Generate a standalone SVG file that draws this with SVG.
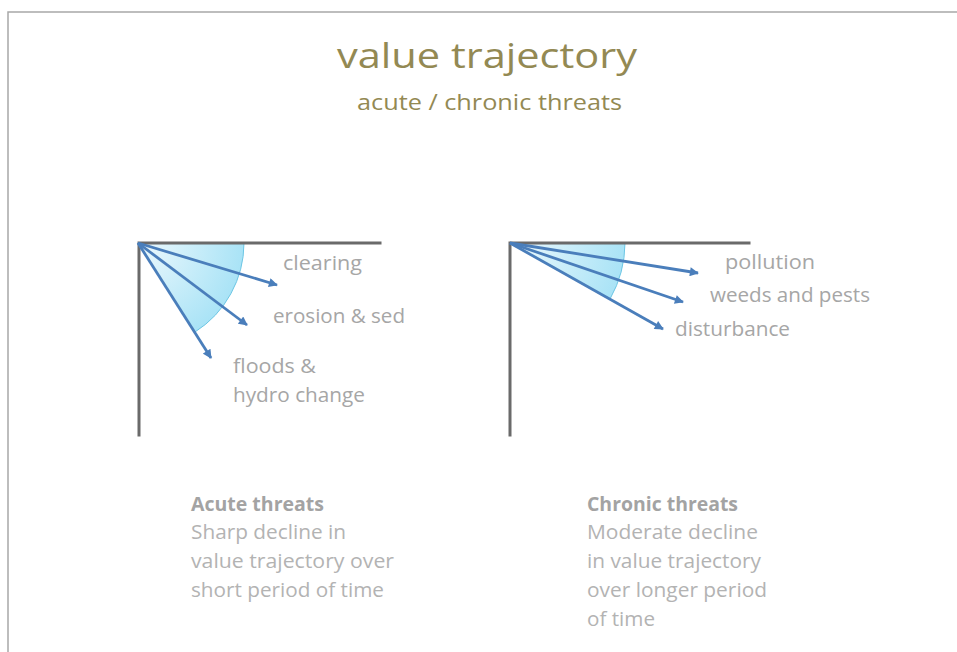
<svg xmlns="http://www.w3.org/2000/svg" width="957" height="652" viewBox="0 0 957 652">
  <style>
    .frame { fill: none; stroke: #a8a8a8; stroke-width: 1.5; }
    .axis { fill: none; stroke: #6a6a6a; stroke-width: 3; stroke-linecap: square; }
    .arrow { fill: none; stroke: #4a7ebb; stroke-width: 2.8; marker-end: url(#head); }
    .wedge-edge { stroke: #6cc6e4; stroke-width: 1; }
    .title { font-family: "Open Sans", "Liberation Sans", sans-serif; fill: #938953; }
    .label { font-family: "Open Sans", "Liberation Sans", sans-serif; font-size: 20px; fill: #a6a6a6; }
    .note { font-family: "Open Sans", "Liberation Sans", sans-serif; font-size: 20px; fill: #b3b3b3; }
    .note-head { font-weight: bold; fill: #a3a3a3; }
  </style>
  <defs>
    <marker id="head" viewBox="0 0 10 10" refX="9" refY="5" markerWidth="11" markerHeight="9" markerUnits="userSpaceOnUse" orient="auto">
      <path d="M0,0 L10,5 L0,10 z" fill="#4a7ebb"/>
    </marker>
    <radialGradient id="fanLeft" gradientUnits="userSpaceOnUse" cx="138" cy="243" r="106">
      <stop offset="0" stop-color="#eef9fd"/>
      <stop offset="1" stop-color="#a9e3f6"/>
    </radialGradient>
    <radialGradient id="fanRight" gradientUnits="userSpaceOnUse" cx="510" cy="243" r="115">
      <stop offset="0" stop-color="#eef9fd"/>
      <stop offset="1" stop-color="#a9e3f6"/>
    </radialGradient>
  </defs>

  <!-- outer frame -->
  <path class="frame" d="M8,652 L8,12 L957,12"/>

  <!-- heading -->
  <g id="heading">
    <text class="title" x="337" y="68" font-size="34" textLength="300" lengthAdjust="spacingAndGlyphs">value trajectory</text>
    <text class="title" x="357" y="110" font-size="22" textLength="265" lengthAdjust="spacingAndGlyphs">acute / chronic threats</text>
  </g>

  <!-- acute threats chart -->
  <g id="acute-chart">
    <path d="M138,243 L244,243 A106,106 0 0 1 195,332 Z" fill="url(#fanLeft)"/>
    <path class="wedge-edge" d="M244,243 A106,106 0 0 1 195,332" fill="none"/>
    <path class="axis" d="M139,435 L139,243 L380,243"/>
  </g>

  <!-- chronic threats chart -->
  <g id="chronic-chart">
    <path d="M510,243 L625,243 A115,115 0 0 1 610,299 Z" fill="url(#fanRight)"/>
    <path class="wedge-edge" d="M625,243 A115,115 0 0 1 610,299" fill="none"/>
    <path class="axis" d="M510,435 L510,243 L749,243"/>
  </g>

  <!-- trajectory arrows -->
  <g id="connectors">
    <line class="arrow" x1="138" y1="243" x2="277" y2="285"/>
    <line class="arrow" x1="138" y1="243" x2="247" y2="325"/>
    <line class="arrow" x1="138" y1="243" x2="211" y2="358"/>
    <line class="arrow" x1="510" y1="243" x2="698" y2="273"/>
    <line class="arrow" x1="510" y1="243" x2="683" y2="302"/>
    <line class="arrow" x1="510" y1="243" x2="663" y2="329"/>
  </g>

  <!-- threat labels -->
  <g id="label-clearing"><text class="label" x="283" y="270" textLength="79" lengthAdjust="spacingAndGlyphs">clearing</text></g>
  <g id="label-erosion"><text class="label" x="273" y="323" textLength="132" lengthAdjust="spacingAndGlyphs">erosion &amp; sed</text></g>
  <g id="label-floods">
    <text class="label" x="233" y="373" textLength="83" lengthAdjust="spacingAndGlyphs">floods &amp;</text>
    <text class="label" x="233" y="402" textLength="132" lengthAdjust="spacingAndGlyphs">hydro change</text>
  </g>
  <g id="label-pollution"><text class="label" x="725" y="269" textLength="90" lengthAdjust="spacingAndGlyphs">pollution</text></g>
  <g id="label-weeds"><text class="label" x="710" y="302" textLength="160" lengthAdjust="spacingAndGlyphs">weeds and pests</text></g>
  <g id="label-disturbance"><text class="label" x="675" y="336" textLength="115" lengthAdjust="spacingAndGlyphs">disturbance</text></g>

  <!-- explanatory notes -->
  <g id="note-acute">
    <text class="note note-head" x="191" y="511" textLength="133" lengthAdjust="spacingAndGlyphs">Acute threats</text>
    <text class="note" x="191" y="539" textLength="155" lengthAdjust="spacingAndGlyphs">Sharp decline in</text>
    <text class="note" x="191" y="568" textLength="203" lengthAdjust="spacingAndGlyphs">value trajectory over</text>
    <text class="note" x="191" y="597" textLength="193" lengthAdjust="spacingAndGlyphs">short period of time</text>
  </g>
  <g id="note-chronic">
    <text class="note note-head" x="587" y="511" textLength="151" lengthAdjust="spacingAndGlyphs">Chronic threats</text>
    <text class="note" x="587" y="539" textLength="171" lengthAdjust="spacingAndGlyphs">Moderate decline</text>
    <text class="note" x="587" y="568" textLength="174" lengthAdjust="spacingAndGlyphs">in value trajectory</text>
    <text class="note" x="587" y="597" textLength="180" lengthAdjust="spacingAndGlyphs">over longer period</text>
    <text class="note" x="587" y="626" textLength="68" lengthAdjust="spacingAndGlyphs">of time</text>
  </g>
</svg>
